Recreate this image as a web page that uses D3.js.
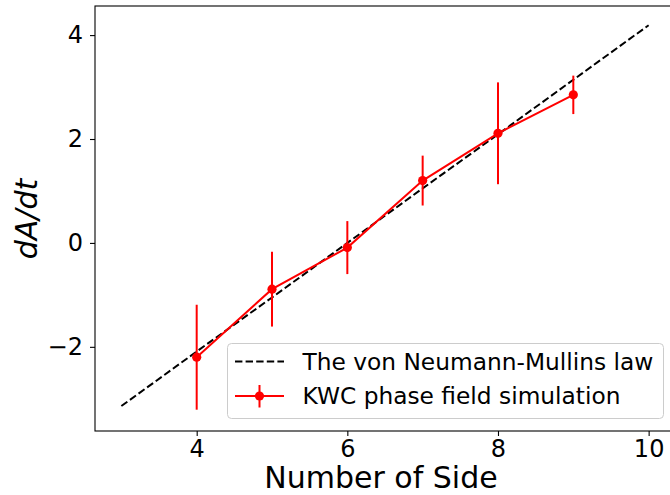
<!DOCTYPE html>
<html>
<head>
<meta charset="utf-8">
<script src="https://cdn.jsdelivr.net/npm/d3@7"></script>
<style>
  html, body { margin: 0; padding: 0; background: #fff; overflow: hidden; }
  svg { display: block; font-family: "DejaVu Sans", sans-serif; }
</style>
</head>
<body>
<svg id="chart" width="670" height="495"></svg>
<script>
// ---- data ----
const sides = [4, 5, 6, 7, 8, 9];
const dAdt = [-2.2, -0.89, -0.09, 1.2, 2.11, 2.85];
const errors = [1.01, 0.72, 0.51, 0.48, 0.98, 0.37];
const lawSides = [3, 4, 5, 6, 7, 8, 9, 10];
const lawValues = [-3.14, -2.09, -1.05, 0, 1.05, 2.09, 3.14, 4.19];
const xTicks = [4, 6, 8, 10];
const yTicks = [-2, 0, 2, 4];
const xDomain = [2.65, 10.35];
const yDomain = [-3.62, 4.56];
const legendLabels = ["The von Neumann-Mullins law", "KWC phase field simulation"];

// ---- layout ----
const svg = d3.select("#chart");
const mLeft = 95, mRight = 675, mTop = 6, mBottom = 431;

const x = d3.scaleLinear().domain(xDomain).range([mLeft, mRight]);
const y = d3.scaleLinear().domain(yDomain).range([mBottom, mTop]);

const fmt = d => (d < 0 ? "\u2212" + Math.abs(d) : String(d));

// axes
const xAxis = svg.append("g").attr("transform", `translate(0,${mBottom})`)
  .call(d3.axisBottom(x).tickValues(xTicks).tickFormat(fmt).tickSize(5).tickPadding(4));
const yAxis = svg.append("g").attr("transform", `translate(${mLeft},0)`)
  .call(d3.axisLeft(y).tickValues(yTicks).tickFormat(fmt).tickSize(5).tickPadding(7));
[xAxis, yAxis].forEach(g => {
  g.select(".domain").remove();
  g.selectAll(".tick line").attr("stroke", "#000").attr("stroke-width", 1.1);
  g.selectAll(".tick text").attr("fill", "#000")
    .style("font-size", "24px").style("font-family", "DejaVu Sans");
});

// spines
svg.append("rect")
  .attr("x", mLeft).attr("y", mTop)
  .attr("width", mRight - mLeft).attr("height", mBottom - mTop)
  .attr("fill", "none").attr("stroke", "#000").attr("stroke-width", 1.1);

// law line
const lawData = lawSides.map((s, i) => [s, lawValues[i]]);
svg.append("path")
  .datum(lawData)
  .attr("d", d3.line().x(d => x(d[0])).y(d => y(d[1])))
  .attr("fill", "none").attr("stroke", "#000")
  .attr("stroke-width", 2).attr("stroke-dasharray", "7.4,3.2");

// simulation
const simData = sides.map((s, i) => ({ s, v: dAdt[i], e: errors[i] }));
svg.append("g").selectAll("line").data(simData).join("line")
  .attr("x1", d => x(d.s)).attr("x2", d => x(d.s))
  .attr("y1", d => y(d.v - d.e)).attr("y2", d => y(d.v + d.e))
  .attr("stroke", "#ff0000").attr("stroke-width", 2);
svg.append("path")
  .datum(simData)
  .attr("d", d3.line().x(d => x(d.s)).y(d => y(d.v)))
  .attr("fill", "none").attr("stroke", "#ff0000").attr("stroke-width", 2);
svg.append("g").selectAll("circle").data(simData).join("circle")
  .attr("cx", d => x(d.s)).attr("cy", d => y(d.v)).attr("r", 4.6)
  .attr("fill", "#ff0000");

// labels
svg.append("text")
  .attr("x", (mLeft + mRight) / 2 - 4).attr("y", 488)
  .attr("text-anchor", "middle")
  .style("font-size", "30px").attr("fill", "#000")
  .text("Number of Side");
svg.append("text")
  .attr("transform", `translate(37,219) rotate(-90)`)
  .attr("text-anchor", "middle")
  .style("font-size", "30px").style("font-style", "italic").attr("fill", "#000")
  .text("dA/dt");

// legend
const lg = svg.append("g");
lg.append("rect")
  .attr("x", 227.5).attr("y", 343.5).attr("width", 436).attr("height", 75)
  .attr("rx", 4).attr("ry", 4)
  .attr("fill", "rgba(255,255,255,0.8)").attr("stroke", "#cccccc").attr("stroke-width", 1);
lg.append("line")
  .attr("x1", 235).attr("x2", 284).attr("y1", 361.5).attr("y2", 361.5)
  .attr("stroke", "#000").attr("stroke-width", 2).attr("stroke-dasharray", "7.4,3.2");
lg.append("line")
  .attr("x1", 235).attr("x2", 284).attr("y1", 396).attr("y2", 396)
  .attr("stroke", "#ff0000").attr("stroke-width", 2);
lg.append("line")
  .attr("x1", 259.5).attr("x2", 259.5).attr("y1", 385).attr("y2", 407.5)
  .attr("stroke", "#ff0000").attr("stroke-width", 2);
lg.append("circle").attr("cx", 259.5).attr("cy", 396).attr("r", 4.6).attr("fill", "#ff0000");
lg.selectAll("text.leg").data(legendLabels).join("text")
  .attr("class", "leg")
  .attr("x", 302.5).attr("y", (d, i) => 370 + i * 34)
  .style("font-size", "23.3px").attr("fill", "#000")
  .text(d => d);
</script>
</body>
</html>
